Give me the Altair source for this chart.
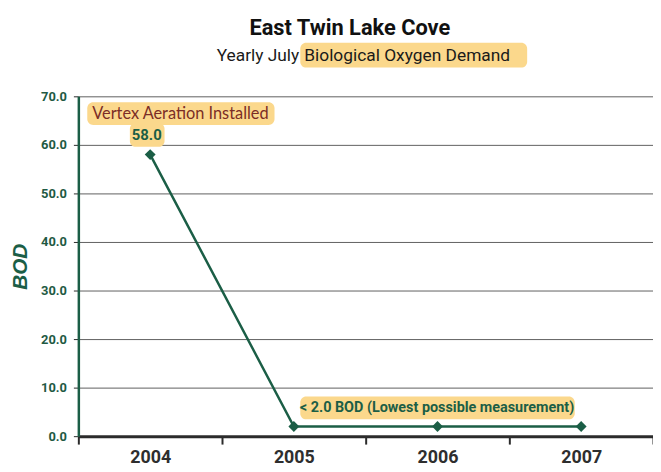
import altair as alt
import pandas as pd

years = ["2004", "2005", "2006", "2007"]
bod = [58.0, 2.0, 2.0, 2.0]
y_ticks = [0, 10, 20, 30, 40, 50, 60, 70]
title_text = "East Twin Lake Cove"
subtitle_plain = "Yearly July"
subtitle_high = "Biological Oxygen Demand"
note_top = "Vertex Aeration Installed"
note_value = "58.0"
note_low = "< 2.0 BOD (Lowest possible measurement)"

df = pd.DataFrame({"year": years, "bod": bod})

GREEN = "#1b5e46"
LABEL_GREEN = "#1f5a44"
HIGHLIGHT = "#fbd88c"
MAROON = "#7b2d26"
NARROW = "Roboto, Liberation Sans, sans-serif"

one = alt.Data(values=[{}])

x_enc = alt.X("year:N", sort=years,
              scale=alt.Scale(paddingInner=0, paddingOuter=0),
              axis=alt.Axis(title=None, labelAngle=0, tickBand="extent",
                            labelFont=NARROW, labelFontSize=18, labelFontWeight="bold",
                            labelColor="#2e2e2e", labelPadding=5,
                            domainColor="#2b2b2b", domainWidth=3,
                            tickColor="#2b2b2b", tickWidth=2, tickSize=8, grid=False))
y_enc = alt.Y("bod:Q",
              scale=alt.Scale(domain=[0, 70], nice=False),
              axis=alt.Axis(title="BOD", values=y_ticks, format=".1f",
                            labelFont=NARROW, labelFontSize=13, labelFontWeight="bold",
                            labelColor=LABEL_GREEN, labelPadding=7,
                            titleFont="Liberation Sans, Arial, sans-serif", titleFontSize=21,
                            titleFontStyle="italic", titleFontWeight="bold",
                            titleColor=GREEN, titlePadding=10,
                            domainColor=GREEN, domainWidth=2.5,
                            tickColor="#2b2b2b", tickSize=5, tickWidth=1,
                            grid=True, gridColor="#4d4d4d", gridWidth=0.9))

line = alt.Chart(df).mark_line(color=GREEN, strokeWidth=2.5).encode(x=x_enc, y=y_enc)
pts = alt.Chart(df).mark_point(shape="diamond", filled=True, color=GREEN, size=120, opacity=1).encode(
    x=alt.X("year:N", sort=years), y="bod:Q")


def hl(x1, x2, y1, y2):
    return alt.Chart(one).mark_rect(color=HIGHLIGHT, cornerRadius=6, clip=False).encode(
        x=alt.value(x1), x2=alt.value(x2), y=alt.value(y1), y2=alt.value(y2))


def txt(s, x, y, size, color, weight="normal", font=NARROW, align="center"):
    return alt.Chart(one).mark_text(text=s, fontSize=size, color=color, fontWeight=weight,
                                    font=font, align=align, baseline="middle", clip=False).encode(
        x=alt.value(x), y=alt.value(y))


layers = [
    hl(224, 453, -54, -29),
    hl(9, 198, 6, 29),
    hl(52, 87, 27, 51),
    hl(224, 501, 303, 326),
    line, pts,
    txt(title_text, 274, -69, 22, "#111111", "bold"),
    txt(subtitle_plain, 223, -41, 17.5, "#1a1a1a", align="right"),
    txt(subtitle_high, 228, -41, 17.5, "#1a1a1a", align="left"),
    txt(note_top, 103, 18, 16.5, MAROON, font="Lato, Open Sans, sans-serif"),
    txt(note_value, 69, 39, 15, GREEN, "bold"),
    txt(note_low, 362, 315, 14.5, GREEN, "bold"),
]

chart = alt.layer(*layers).properties(
    width=580, height=343,
    autosize=alt.AutoSizeParams(type="none"),
    padding={"left": 71, "top": 87, "right": 0, "bottom": 32},
    background="white",
).configure_view(stroke=None)

chart.save("out.html", embed_options={"renderer": "svg", "actions": False})
